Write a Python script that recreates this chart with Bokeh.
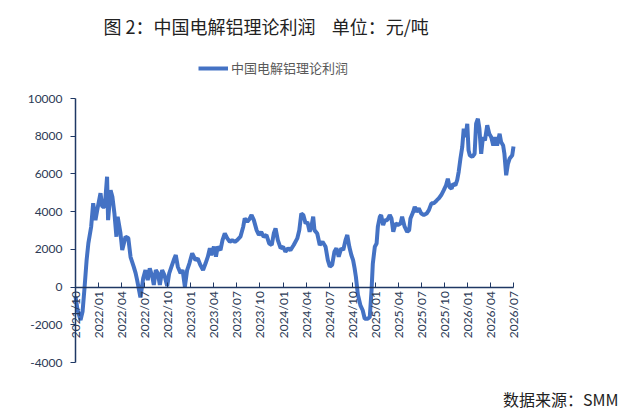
import math
import pandas as pd
from bokeh.plotting import figure
from bokeh.models import (Range1d, FixedTicker, MonthsTicker, DatetimeTickFormatter,
                          NumeralTickFormatter, Label, Legend, LegendItem)
from bokeh.embed import file_html
from bokeh.resources import INLINE

# non-breaking spaces so the gap before 单位 is not collapsed
title_text = "图 2：中国电解铝理论利润\u00a0\u00a0\u00a0\u00a0单位：元/吨"
series_name = "中国电解铝理论利润"
source_text = "数据来源：SMM"

dates = [
    "2021-10-01", "2021-10-09", "2021-10-21", "2021-10-29", "2021-11-06", "2021-11-14",
    "2021-11-21", "2021-12-02", "2021-12-10", "2021-12-19", "2021-12-26", "2022-01-08",
    "2022-01-15", "2022-01-25", "2022-02-03", "2022-02-07", "2022-02-17", "2022-02-24",
    "2022-03-04", "2022-03-12", "2022-03-17", "2022-03-28", "2022-04-04", "2022-04-17",
    "2022-04-28", "2022-05-07", "2022-05-20", "2022-05-27", "2022-06-02", "2022-06-15",
    "2022-06-26", "2022-07-05", "2022-07-14", "2022-07-22", "2022-08-01", "2022-08-07",
    "2022-08-15", "2022-08-23", "2022-08-31", "2022-09-09", "2022-09-18", "2022-09-29",
    "2022-10-07", "2022-10-16", "2022-10-25", "2022-11-02", "2022-11-10", "2022-11-21",
    "2022-11-29", "2022-12-08", "2022-12-17", "2022-12-26", "2023-01-06", "2023-01-19",
    "2023-01-28", "2023-02-08", "2023-02-18", "2023-02-28", "2023-03-09", "2023-03-17",
    "2023-03-22", "2023-04-02", "2023-04-10", "2023-04-17", "2023-04-28", "2023-05-06",
    "2023-05-15", "2023-05-25", "2023-06-04", "2023-06-13", "2023-06-24", "2023-07-03",
    "2023-07-16", "2023-07-27", "2023-08-02", "2023-08-12", "2023-08-22", "2023-08-29",
    "2023-09-07", "2023-09-18", "2023-09-27", "2023-10-06", "2023-10-16", "2023-10-27",
    "2023-11-07", "2023-11-17", "2023-11-25", "2023-12-02", "2023-12-11", "2023-12-22",
    "2024-01-01", "2024-01-10", "2024-01-21", "2024-01-30", "2024-02-12", "2024-02-26",
    "2024-03-05", "2024-03-13", "2024-03-21", "2024-03-30", "2024-04-06", "2024-04-15",
    "2024-04-24", "2024-04-29", "2024-05-04", "2024-05-15", "2024-05-25", "2024-06-05",
    "2024-06-17", "2024-06-26", "2024-07-04", "2024-07-13", "2024-07-22", "2024-07-30",
    "2024-08-08", "2024-08-18", "2024-08-26", "2024-09-04", "2024-09-11", "2024-09-19",
    "2024-09-27", "2024-10-04", "2024-10-10", "2024-10-15", "2024-10-23", "2024-11-02",
    "2024-11-11", "2024-11-19", "2024-12-01", "2024-12-09", "2024-12-16", "2024-12-21",
    "2024-12-29", "2025-01-05", "2025-01-10", "2025-01-18", "2025-01-23", "2025-01-31",
    "2025-02-07", "2025-02-16", "2025-02-26", "2025-03-05", "2025-03-12", "2025-03-21",
    "2025-03-30", "2025-04-10", "2025-04-16", "2025-04-26", "2025-05-06", "2025-05-14",
    "2025-05-19", "2025-05-30", "2025-06-05", "2025-06-12", "2025-06-21", "2025-07-01",
    "2025-07-11", "2025-07-22", "2025-07-31", "2025-08-10", "2025-08-19", "2025-08-30",
    "2025-09-08", "2025-09-18", "2025-09-28", "2025-10-07", "2025-10-14", "2025-10-21",
    "2025-10-29", "2025-11-04", "2025-11-13", "2025-11-20", "2025-11-26", "2025-12-03",
    "2025-12-10", "2025-12-16", "2025-12-23", "2025-12-30", "2026-01-04", "2026-01-09",
    "2026-01-19", "2026-01-28", "2026-02-03", "2026-02-10", "2026-02-16", "2026-02-23",
    "2026-03-02", "2026-03-10", "2026-03-19", "2026-03-27", "2026-04-04", "2026-04-12",
    "2026-04-20", "2026-04-27", "2026-05-07", "2026-05-13", "2026-05-21", "2026-05-26",
    "2026-06-02", "2026-06-09", "2026-06-16", "2026-06-26", "2026-07-01",
]

profit = [
    -500, -1200, -1750, -1300, 0, 1430,
    2330, 3200, 4450, 3550, 4080, 4980,
    4260, 4260, 5850, 3550, 5140, 4790,
    3920, 2670, 3730, 2860, 1960, 2670,
    2600, 1590, 1060, 740, 370, -550,
    460, 900, 370, 990, 550, 110,
    900, 730, 110, 900, 640, 50,
    730, 1080, 1430, 1700, 1080, 730,
    900, 20, 900, 1260, 1790, 1430,
    1520, 1150, 900, 1260, 1610, 2060,
    1700, 2140, 1610, 2140, 1960, 2490,
    2840, 2580, 2400, 2490, 2400, 2490,
    2670, 3200, 3640, 3460, 3640, 3820,
    3550, 3020, 2760, 2930, 2670, 2760,
    2310, 2230, 2840, 3110, 2490, 2060,
    2140, 1870, 2060, 1960, 2230, 2580,
    3020, 3900, 3820, 3370, 3460, 2930,
    3370, 3730, 3020, 2840, 2230, 2400,
    2140, 1430, 1080, 1170, 1870, 2060,
    1610, 2060, 1960, 2490, 2760, 2140,
    1700, 1430, 990, 550, -400, -970,
    -1230, -1680, -1680, -1590, -180, 1240,
    2140, 2310, 3200, 3730, 3820, 3290,
    3550, 3550, 3820, 3640, 2930, 3370,
    3290, 3370, 3730, 3200, 2930, 3020,
    3640, 3990, 4260, 3990, 4170, 3900,
    3820, 3900, 4080, 4440, 4440, 4580,
    4700, 4880, 5140, 5400, 5750, 5300,
    5220, 5480, 5400, 5670, 6110, 6820,
    7420, 8400, 7950, 8660, 7260, 6990,
    6900, 7070, 8660, 8930, 8400, 7070,
    7950, 7780, 8580, 8130, 7950, 7510,
    7950, 7510, 8130, 7690, 7510, 7070,
    5930, 6540, 6820, 6990, 7450,
]

y_ticks = [-4000, -2000, 0, 2000, 4000, 6000, 8000, 10000]
x_start, x_end = pd.Timestamp("2021-10-01"), pd.Timestamp("2026-07-01")
y_start, y_end = -4000, 10000

# page layout: the plot area sits at x 75..513, y 98..362 of a 618x410 canvas;
# the frame covers the whole canvas so the texts are not clipped
W, H = 618, 410
L, R, T, B = 75, 513, 98, 362
span = x_end - x_start
xr = Range1d(x_start - span * (L / (R - L)), x_end + span * ((W - R) / (R - L)))
ys = (y_end - y_start) / (B - T)
yr = Range1d(y_start - (H - B) * ys, y_end + T * ys)

x = pd.to_datetime(dates)
axis_col = "#1F3864"
label_col = "#2B3A55"

p = figure(width=W, height=H, x_axis_type="datetime", x_range=xr, y_range=yr,
           toolbar_location=None, tools="", output_backend="svg",
           min_border=0)
p.outline_line_color = None
p.grid.grid_line_color = None

r = p.line(x, profit, line_width=4, color="#4472C4")

x0_ms = x_start.value / 1e6
x1_ms = x_end.value / 1e6

# x axis sits on zero, ticks point up, labels vertical
xa = p.xaxis[0]
xa.fixed_location = 0
xa.bounds = (x0_ms, x1_ms)
xa.ticker = MonthsTicker(months=[0, 3, 6, 9])
xa.formatter = DatetimeTickFormatter(months="%Y/%m", days="%Y/%m")
xa.major_label_orientation = math.pi / 2
xa.major_tick_in = 5
xa.major_tick_out = 0
xa.minor_tick_in = 0
xa.minor_tick_out = 0
xa.major_label_standoff = 4
xa.axis_line_color = axis_col
xa.axis_line_width = 1.5
xa.major_tick_line_color = axis_col
xa.major_label_text_font = "Lato"
xa.major_label_text_font_size = "12px"
xa.major_label_text_color = label_col

ya = p.yaxis[0]
ya.fixed_location = x0_ms
ya.bounds = (y_start, y_end)
ya.ticker = FixedTicker(ticks=y_ticks)
ya.formatter = NumeralTickFormatter(format="0")
ya.major_tick_in = 0
ya.major_tick_out = 5
ya.minor_tick_in = 0
ya.minor_tick_out = 0
ya.major_label_standoff = 8
ya.axis_line_color = axis_col
ya.axis_line_width = 1.5
ya.major_tick_line_color = axis_col
ya.major_label_text_font = "Lato"
ya.major_label_text_font_size = "12px"
ya.major_label_text_color = label_col

# positions below are measured from the canvas bottom-left corner
legend = Legend(items=[LegendItem(label=series_name, renderers=[r])],
                location=(198, 333), orientation="horizontal",
                border_line_color=None, background_fill_alpha=0,
                padding=0, margin=0, glyph_width=30, glyph_height=14, label_standoff=3,
                label_text_font="Noto Sans CJK SC", label_text_font_size="13px",
                label_text_color="#595959", label_height=14)
p.add_layout(legend)

p.add_layout(Label(x=103, y=H - 25, x_units="screen", y_units="screen", text=title_text,
                   text_baseline="middle", text_font="Noto Sans CJK SC",
                   text_font_size="18px", text_color="#222222"))
p.add_layout(Label(x=618, y=H - 398, x_units="screen", y_units="screen", text=source_text,
                   text_align="right", text_baseline="middle",
                   text_font="Noto Sans CJK SC", text_font_size="16px",
                   text_color="#222222"))

open("out.html", "w").write(file_html(p, INLINE))
